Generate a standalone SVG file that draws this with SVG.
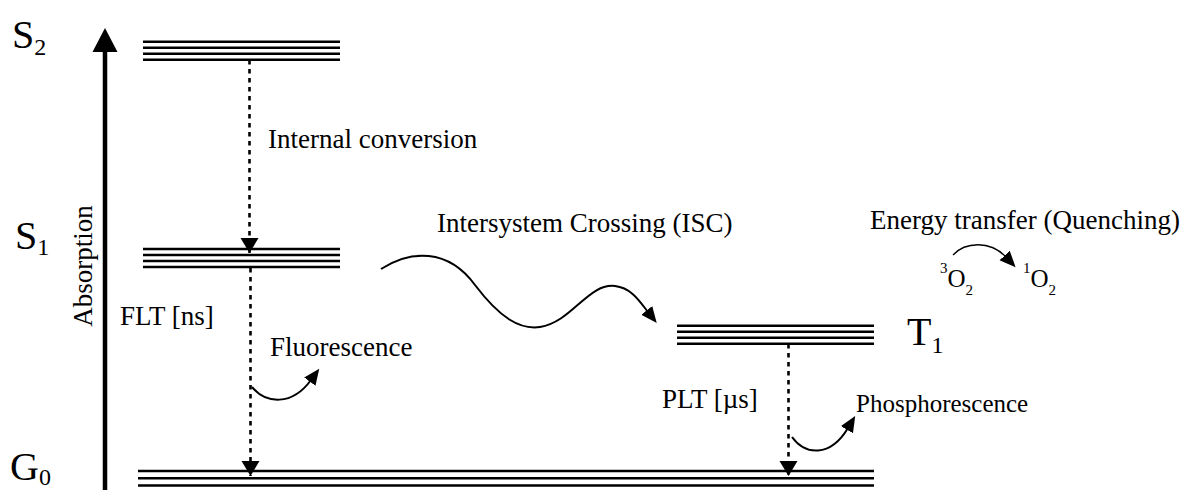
<svg xmlns="http://www.w3.org/2000/svg" width="1190" height="490" viewBox="0 0 1190 490">
<style>
text{font-family:"Liberation Serif","Times New Roman","DejaVu Serif",serif;fill:#000}
.lbl{font-size:27px}
.big{font-size:40px}
.sub{font-size:24px}
.lvl{stroke:#000;stroke-width:2.5;fill:none}
.dash{stroke:#000;stroke-width:2.6;stroke-dasharray:4.5 4.5;fill:none}
.curve{stroke:#000;stroke-width:2;fill:none}
.thin{stroke:#000;stroke-width:1.3;fill:none}
</style>
<defs>
<marker id="ah" markerUnits="userSpaceOnUse" markerWidth="18" markerHeight="16" refX="2" refY="7" orient="auto">
<path d="M0,0 L16,7 L0,14 z" fill="#000"/>
</marker>
<marker id="dh" markerUnits="userSpaceOnUse" markerWidth="18" markerHeight="20" refX="15" refY="9" orient="auto">
<path d="M0,0 L15,9 L0,18 z" fill="#000"/>
</marker>
</defs>
<rect width="1190" height="490" fill="#fff"/>

<g id="absorption">
<line x1="105" y1="50" x2="105" y2="490" stroke="#000" stroke-width="4.5"/>
<path d="M105,28 L117.5,52 L92.5,52 z" fill="#000"/>
<text class="lbl" transform="translate(92,266) rotate(-90)" text-anchor="middle">Absorption</text>
</g>

<g id="S2">
<path class="lvl" d="M143,41.7H340M143,47.7H340M143,53.7H340M143,59.7H340"/>
<text class="big" x="12" y="48">S<tspan class="sub" dy="7">2</tspan></text>
</g>

<g id="S1">
<path class="lvl" d="M143,249H340M143,255H340M143,261H340M143,267H340"/>
<text class="big" x="15" y="249">S<tspan class="sub" dy="6">1</tspan></text>
</g>

<g id="T1">
<path class="lvl" d="M677,325.7H874M677,331.7H874M677,337.7H874M677,343.7H874"/>
<text class="big" x="907" y="345">T<tspan class="sub" dy="8">1</tspan></text>
</g>

<g id="G0">
<path class="lvl" d="M138,471H874M138,478.2H874M138,485.4H874"/>
<text class="big" x="10" y="480">G<tspan class="sub" dy="5">0</tspan></text>
</g>

<g id="oxygen">
<text x="940" y="287" font-size="25"><tspan font-size="15" dy="-14">3</tspan><tspan dy="14">O</tspan><tspan font-size="15" dy="8">2</tspan></text>
<text x="1023" y="287" font-size="25"><tspan font-size="15" dy="-14">1</tspan><tspan dy="14">O</tspan><tspan font-size="15" dy="8">2</tspan></text>
</g>

<g id="labels">
<text class="lbl" x="268" y="148">Internal conversion</text>
<text class="lbl" x="437" y="232">Intersystem Crossing (ISC)</text>
<text class="lbl" x="870" y="229">Energy transfer (Quenching)</text>
<text class="lbl" x="120" y="325">FLT [ns]</text>
<text class="lbl" x="270" y="356">Fluorescence</text>
<text class="lbl" x="662" y="408">PLT [µs]</text>
<text x="856" y="412" font-size="25">Phosphorescence</text>
</g>

<g id="connectors">
<path class="dash" d="M249.5,60V253" marker-end="url(#dh)"/>
<path class="dash" d="M250.5,268V476" marker-end="url(#dh)"/>
<path class="dash" d="M788.5,344V476" marker-end="url(#dh)"/>
<path class="curve" d="M381,269 C410,250 448,248 475,285 C500,318 520,330 540,327 C572,322 588,283 615,286 C632,288 640,302 648,312" marker-end="url(#ah)"/>
<path class="curve" d="M252,387 C266,404 292,406 311,380" marker-end="url(#ah)"/>
<path class="curve" d="M792,437 C805,455 830,458 848,428" marker-end="url(#ah)"/>
<path class="thin" d="M953,255 C965,242 990,240 1006,257" marker-end="url(#ah)"/>
</g>
</svg>
